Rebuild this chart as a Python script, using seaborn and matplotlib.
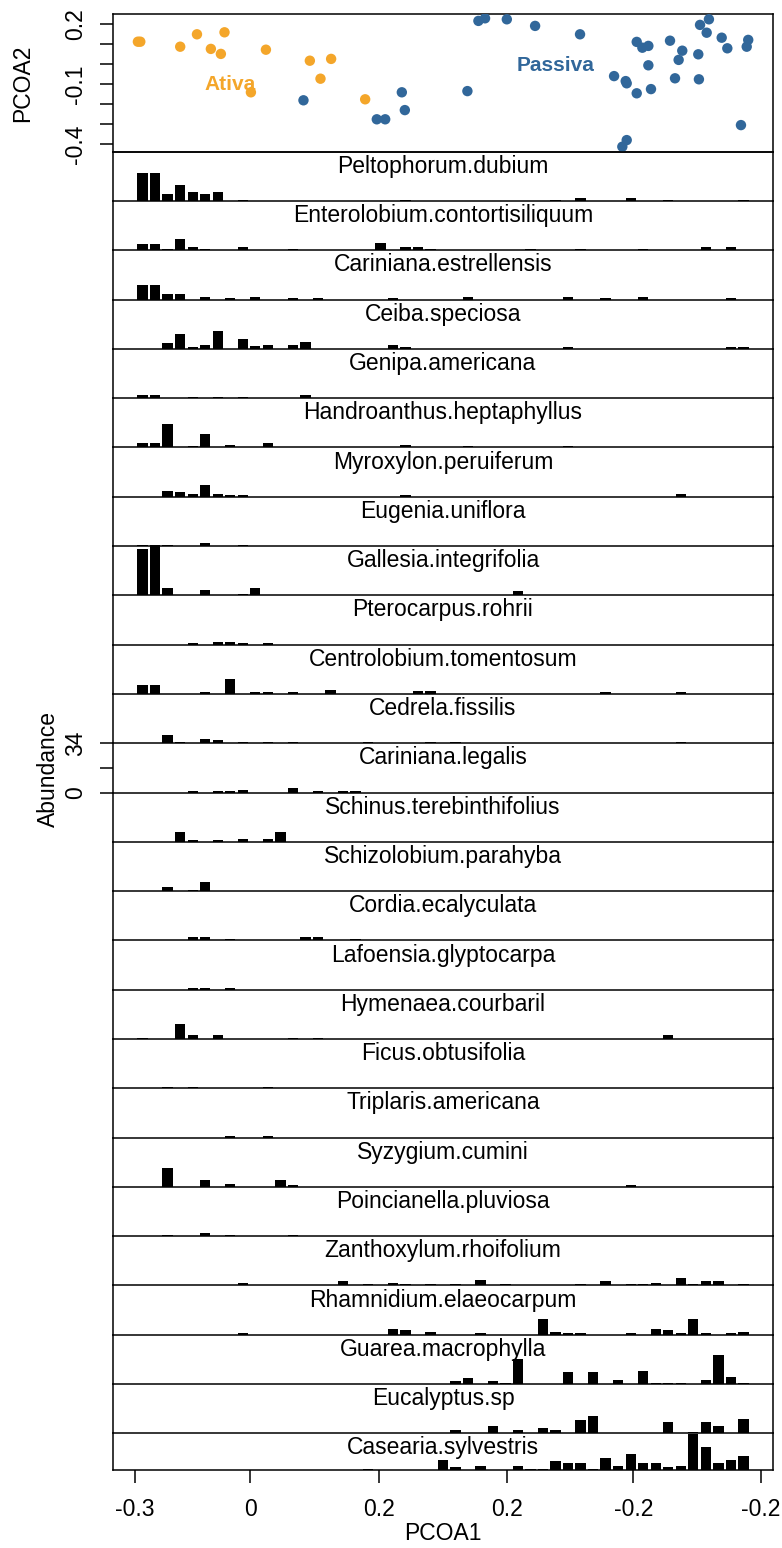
import matplotlib
matplotlib.use("Agg")
import matplotlib.pyplot as plt
import numpy as np
import pandas as pd
import seaborn as sns

# ---------------------------------------------------------------------------
# Ordination scores (PCoA axes 1 and 2) on the shared plotting scale
# ---------------------------------------------------------------------------
ativa_x = [0.62, 0.81, 4.00, 5.34, 6.45, 7.25, 7.54, 10.85, 14.36, 16.06,
           15.21, 9.65, 18.78]
ativa_y = [0.113, 0.113, 0.088, 0.150, 0.077, 0.052, 0.160, 0.073, 0.018,
           0.027, -0.072, -0.140, -0.175]
passiva_x = [13.85, 19.71, 20.38, 21.71, 21.95, 26.95, 27.83, 28.36, 30.10,
             32.36, 35.95, 38.67, 39.33, 39.68, 39.60, 39.68, 40.48, 40.48,
             40.93, 41.41, 41.41, 41.62, 43.14, 43.54, 43.83, 44.12, 45.40,
             45.45, 45.54, 46.25, 46.07, 47.27, 47.72, 48.81, 49.39, 49.27]
passiva_y = [-0.180, -0.275, -0.275, -0.140, -0.229, -0.134, 0.217, 0.230,
             0.225, 0.192, 0.150, -0.059, -0.412, -0.379, -0.084, -0.095,
             0.112, -0.145, 0.083, 0.092, -0.005, -0.124, 0.118, -0.070,
             0.022, 0.068, 0.050, -0.075, 0.197, 0.225, 0.158, 0.133, 0.080,
             -0.304, 0.122, 0.088]

pcoa2_ticks = [0.2, 0.1, 0.0, -0.1, -0.2, -0.3, -0.4]
pcoa2_labels = ["0.2", "", "", "-0.1", "", "", "-0.4"]
pcoa1_ticks = [0.4, 9.6, 19.85, 30.15, 40.2, 50.4]
pcoa1_labels = ["-0.3", "0", "0.2", "0.2", "-0.2", "-0.2"]

# ---------------------------------------------------------------------------
# Abundance of each species in the 49 plots (plots ordered along PCoA 1)
# ---------------------------------------------------------------------------
peltophorum_dubium = [
    19, 19, 5, 11, 6, 5, 6, 0, 1, 0,
    0, 0, 0, 0, 0, 0, 0, 0, 0, 0,
    0, 1, 0, 0, 0, 0, 0, 0, 0, 0,
    0, 0, 0, 1, 0, 2, 0, 0, 0, 2,
    0, 0, 1, 0, 0, 0, 0, 0, 1]
enterolobium_contortisiliquum = [
    4, 4, 1, 8, 2, 1, 0, 0, 2, 0,
    0, 0, 1, 0, 0, 0, 0, 0, 0, 5,
    0, 2, 2, 1, 0, 0, 0, 0, 0, 0,
    0, 1, 0, 0, 0, 1, 0, 0, 0, 0,
    1, 0, 0, 0, 0, 2, 0, 2, 0]
cariniana_estrellensis = [
    10, 10, 4, 4, 0, 2, 0, 1, 0, 2,
    0, 0, 1, 0, 1, 0, 0, 0, 0, 0,
    1, 0, 0, 0, 0, 0, 2, 0, 0, 0,
    0, 0, 0, 0, 2, 0, 0, 1, 0, 0,
    2, 0, 0, 0, 0, 0, 0, 1, 0]
ceiba_speciosa = [
    0, 0, 4, 10, 1, 3, 12, 0, 7, 2,
    3, 0, 3, 5, 0, 0, 0, 0, 0, 0,
    3, 1, 0, 0, 0, 0, 0, 0, 0, 0,
    0, 0, 0, 0, 1, 0, 0, 0, 0, 0,
    0, 0, 0, 0, 0, 0, 0, 1, 1]
genipa_americana = [
    2, 2, 0, 0, 1, 0, 1, 0, 1, 0,
    0, 0, 0, 2, 0, 0, 0, 0, 0, 0,
    0, 0, 0, 0, 0, 0, 0, 0, 0, 0,
    0, 0, 0, 0, 0, 0, 0, 0, 0, 0,
    0, 0, 0, 0, 0, 0, 0, 0, 0]
handroanthus_heptaphyllus = [
    3, 3, 16, 0, 1, 9, 0, 2, 0, 0,
    3, 0, 0, 0, 0, 0, 0, 0, 0, 0,
    0, 2, 0, 0, 0, 0, 1, 0, 0, 0,
    0, 0, 0, 0, 1, 0, 0, 0, 0, 0,
    0, 0, 0, 0, 0, 0, 0, 0, 0]
myroxylon_peruiferum = [
    0, 0, 4, 3, 2, 8, 2, 1, 1, 0,
    0, 0, 0, 0, 0, 0, 0, 0, 0, 0,
    0, 1, 0, 0, 0, 0, 0, 0, 0, 0,
    0, 0, 0, 0, 0, 0, 0, 0, 0, 0,
    0, 0, 0, 2, 0, 0, 0, 0, 0]
eugenia_uniflora = [
    1, 1, 1, 0, 0, 2, 0, 0, 1, 0,
    0, 0, 0, 0, 0, 0, 0, 0, 0, 0,
    0, 0, 0, 0, 0, 0, 0, 0, 0, 0,
    0, 0, 0, 0, 0, 0, 0, 0, 0, 0,
    0, 0, 0, 0, 0, 0, 0, 0, 0]
gallesia_integrifolia = [
    32, 34, 5, 0, 0, 4, 0, 0, 1, 5,
    0, 0, 0, 0, 0, 0, 0, 0, 0, 0,
    0, 0, 0, 0, 0, 0, 0, 0, 0, 0,
    3, 0, 0, 0, 0, 0, 0, 0, 0, 0,
    0, 0, 0, 0, 0, 0, 0, 0, 0]
pterocarpus_rohrii = [
    0, 0, 0, 0, 1, 0, 2, 2, 1, 0,
    1, 0, 0, 0, 0, 0, 0, 0, 0, 0,
    0, 0, 0, 0, 0, 0, 0, 0, 0, 0,
    0, 0, 0, 0, 0, 0, 0, 0, 0, 0,
    0, 0, 0, 0, 0, 0, 0, 0, 0]
centrolobium_tomentosum = [
    6, 6, 0, 0, 0, 1, 0, 10, 0, 1,
    1, 0, 1, 0, 0, 3, 0, 0, 0, 0,
    0, 0, 2, 2, 0, 0, 0, 0, 0, 0,
    0, 0, 0, 0, 0, 0, 0, 1, 0, 0,
    0, 0, 0, 1, 0, 0, 0, 0, 0]
cedrela_fissilis = [
    0, 0, 6, 1, 0, 3, 2, 0, 1, 0,
    1, 0, 1, 0, 0, 0, 0, 0, 1, 0,
    0, 0, 0, 1, 0, 1, 0, 0, 0, 0,
    0, 0, 0, 0, 0, 0, 0, 0, 0, 0,
    0, 0, 0, 1, 0, 0, 0, 0, 0]
cariniana_legalis = [
    0, 0, 0, 0, 1, 0, 1, 1, 2, 0,
    0, 0, 3, 0, 1, 0, 1, 1, 0, 0,
    0, 0, 0, 0, 0, 0, 0, 0, 0, 0,
    0, 0, 0, 0, 0, 0, 0, 0, 0, 0,
    0, 0, 0, 0, 0, 0, 0, 0, 0]
schinus_terebinthifolius = [
    0, 0, 0, 7, 1, 0, 1, 0, 2, 0,
    2, 7, 0, 0, 0, 0, 0, 0, 0, 0,
    0, 0, 0, 0, 0, 0, 0, 0, 0, 0,
    0, 0, 0, 0, 0, 0, 0, 0, 0, 0,
    0, 0, 0, 0, 0, 0, 0, 0, 0]
schizolobium_parahyba = [
    0, 0, 3, 0, 1, 6, 0, 0, 0, 0,
    0, 0, 0, 0, 0, 0, 0, 0, 0, 0,
    0, 0, 0, 0, 0, 0, 0, 0, 0, 0,
    0, 0, 0, 0, 0, 0, 0, 0, 0, 0,
    0, 0, 0, 0, 0, 0, 0, 0, 0]
cordia_ecalyculata = [
    0, 0, 0, 0, 2, 2, 0, 1, 0, 0,
    0, 0, 0, 2, 2, 0, 0, 1, 0, 0,
    0, 0, 0, 0, 0, 0, 0, 0, 0, 0,
    0, 0, 0, 0, 0, 0, 0, 0, 0, 0,
    0, 0, 0, 0, 0, 0, 0, 0, 0]
lafoensia_glyptocarpa = [
    0, 0, 0, 0, 1, 1, 0, 1, 0, 0,
    0, 0, 0, 0, 0, 0, 0, 0, 0, 0,
    0, 0, 0, 0, 0, 0, 0, 0, 0, 0,
    0, 0, 0, 0, 0, 0, 0, 0, 0, 0,
    0, 0, 0, 0, 0, 0, 0, 0, 0]
hymenaea_courbaril = [
    1, 0, 0, 10, 3, 0, 3, 0, 0, 0,
    0, 0, 1, 0, 1, 0, 0, 0, 0, 0,
    0, 0, 0, 0, 0, 0, 0, 0, 0, 0,
    0, 0, 0, 0, 0, 0, 0, 0, 0, 0,
    0, 0, 3, 0, 0, 0, 0, 0, 0]
ficus_obtusifolia = [
    0, 0, 1, 0, 1, 0, 0, 0, 0, 0,
    1, 0, 0, 0, 0, 0, 0, 0, 0, 0,
    0, 0, 0, 0, 0, 0, 0, 0, 0, 0,
    0, 0, 0, 0, 0, 0, 0, 0, 0, 0,
    0, 0, 0, 0, 0, 0, 0, 0, 0]
triplaris_americana = [
    0, 0, 0, 0, 0, 0, 0, 1, 0, 0,
    1, 0, 0, 0, 0, 0, 0, 0, 0, 0,
    0, 0, 0, 0, 0, 0, 0, 0, 0, 0,
    0, 0, 0, 0, 0, 0, 0, 0, 0, 0,
    0, 0, 0, 0, 0, 0, 0, 0, 0]
syzygium_cumini = [
    0, 0, 13, 0, 0, 5, 0, 2, 0, 0,
    0, 5, 1, 0, 0, 0, 0, 0, 0, 0,
    0, 0, 0, 0, 0, 0, 0, 0, 0, 0,
    0, 0, 0, 0, 0, 0, 0, 0, 0, 1,
    0, 0, 0, 0, 0, 0, 0, 0, 0]
poincianella_pluviosa = [
    0, 0, 1, 0, 0, 2, 0, 1, 0, 0,
    0, 0, 1, 0, 0, 0, 0, 0, 0, 0,
    0, 0, 0, 0, 0, 0, 0, 0, 0, 0,
    0, 0, 0, 0, 0, 0, 0, 0, 0, 0,
    0, 0, 0, 0, 0, 0, 0, 0, 0]
zanthoxylum_rhoifolium = [
    0, 0, 0, 0, 0, 0, 0, 0, 2, 0,
    0, 0, 0, 0, 0, 0, 3, 0, 1, 0,
    2, 1, 0, 1, 0, 1, 0, 4, 0, 1,
    0, 0, 0, 0, 0, 1, 0, 3, 0, 1,
    1, 2, 0, 5, 1, 3, 3, 0, 1]
rhamnidium_elaeocarpum = [
    0, 0, 0, 0, 0, 0, 0, 0, 1, 0,
    0, 0, 0, 0, 0, 0, 0, 0, 0, 0,
    4, 3, 0, 2, 0, 0, 0, 1, 0, 0,
    0, 0, 11, 2, 1, 1, 0, 0, 0, 1,
    0, 4, 3, 1, 11, 1, 0, 1, 2]
guarea_macrophylla = [
    0, 0, 0, 0, 0, 0, 0, 0, 0, 0,
    0, 0, 0, 0, 0, 0, 0, 0, 0, 0,
    0, 0, 0, 0, 0, 2, 4, 0, 2, 1,
    17, 0, 0, 0, 8, 0, 8, 0, 3, 0,
    9, 1, 1, 1, 0, 3, 20, 5, 1]
eucalyptus_sp = [
    0, 0, 0, 0, 0, 0, 0, 0, 0, 0,
    0, 0, 0, 0, 0, 0, 0, 0, 0, 0,
    0, 0, 0, 0, 0, 2, 0, 0, 5, 0,
    2, 0, 4, 2, 0, 9, 12, 0, 0, 0,
    0, 0, 8, 0, 1, 8, 5, 0, 10]
casearia_sylvestris = [
    0, 0, 0, 0, 0, 0, 0, 0, 0, 0,
    0, 0, 0, 0, 0, 0, 0, 0, 1, 0,
    0, 0, 0, 0, 7, 2, 0, 3, 0, 0,
    3, 1, 1, 6, 5, 5, 1, 8, 3, 11,
    5, 5, 2, 3, 25, 16, 5, 7, 10]

species = [
    ("Peltophorum.dubium", peltophorum_dubium),
    ("Enterolobium.contortisiliquum", enterolobium_contortisiliquum),
    ("Cariniana.estrellensis", cariniana_estrellensis),
    ("Ceiba.speciosa", ceiba_speciosa),
    ("Genipa.americana", genipa_americana),
    ("Handroanthus.heptaphyllus", handroanthus_heptaphyllus),
    ("Myroxylon.peruiferum", myroxylon_peruiferum),
    ("Eugenia.uniflora", eugenia_uniflora),
    ("Gallesia.integrifolia", gallesia_integrifolia),
    ("Pterocarpus.rohrii", pterocarpus_rohrii),
    ("Centrolobium.tomentosum", centrolobium_tomentosum),
    ("Cedrela.fissilis", cedrela_fissilis),
    ("Cariniana.legalis", cariniana_legalis),
    ("Schinus.terebinthifolius", schinus_terebinthifolius),
    ("Schizolobium.parahyba", schizolobium_parahyba),
    ("Cordia.ecalyculata", cordia_ecalyculata),
    ("Lafoensia.glyptocarpa", lafoensia_glyptocarpa),
    ("Hymenaea.courbaril", hymenaea_courbaril),
    ("Ficus.obtusifolia", ficus_obtusifolia),
    ("Triplaris.americana", triplaris_americana),
    ("Syzygium.cumini", syzygium_cumini),
    ("Poincianella.pluviosa", poincianella_pluviosa),
    ("Zanthoxylum.rhoifolium", zanthoxylum_rhoifolium),
    ("Rhamnidium.elaeocarpum", rhamnidium_elaeocarpum),
    ("Guarea.macrophylla", guarea_macrophylla),
    ("Eucalyptus.sp", eucalyptus_sp),
    ("Casearia.sylvestris", casearia_sylvestris),
]
abundance_axis_species = "Cariniana.legalis"
abundance_max = 34
n_plots = 49
plot_rank = np.arange(1, n_plots + 1)

# ---------------------------------------------------------------------------
# Style
# ---------------------------------------------------------------------------
sns.set_style("ticks")
plt.rcParams["font.family"] = ["Liberation Sans", "DejaVu Sans"]
plt.rcParams["axes.edgecolor"] = "black"
plt.rcParams["axes.linewidth"] = 1.1
plt.rcParams["xtick.color"] = "black"
plt.rcParams["ytick.color"] = "black"
plt.rcParams["text.color"] = "black"

ORANGE = "#F4A62A"
BLUE = "#31679A"
FS = 16.5
TICK_LEN = 9.4

W, H = 782, 1548
fig = plt.figure(figsize=(W / 100, H / 100), dpi=100)
left, right = 113 / W, 773 / W
sc_top, sc_bot = 1 - 14 / H, 1 - 151.7 / H
stack_bot = 1 - 1470 / H
xlim = (-1.37, 51.37)

# ---------------------------------------------------------------------------
# PCoA scatter
# ---------------------------------------------------------------------------
ax_sc = fig.add_axes([left, sc_bot, right - left, sc_top - sc_bot])
scores = pd.DataFrame({
    "PCOA1": ativa_x + passiva_x,
    "PCOA2": ativa_y + passiva_y,
    "Restauracao": ["Ativa"] * len(ativa_x) + ["Passiva"] * len(passiva_x),
})
sns.scatterplot(data=scores, x="PCOA1", y="PCOA2", hue="Restauracao",
                palette={"Ativa": ORANGE, "Passiva": BLUE}, s=56,
                linewidth=0, legend=False, ax=ax_sc, zorder=3)
ax_sc.set_xlim(*xlim)
ax_sc.set_ylim(-0.437, 0.2515)
ax_sc.set_xticks([])
ax_sc.set_yticks(pcoa2_ticks)
ax_sc.set_yticklabels(pcoa2_labels, rotation=90, va="center", fontsize=FS)
ax_sc.tick_params(axis="y", length=TICK_LEN, width=1.1, pad=9, direction="out")
ax_sc.set_xlabel("")
ax_sc.set_ylabel("")
ax_sc.text(8.0, -0.1035, "Ativa", color=ORANGE, fontsize=15,
           fontweight="bold", ha="center", va="center")
ax_sc.text(34.0, -0.007, "Passiva", color=BLUE, fontsize=15,
           fontweight="bold", ha="center", va="center")

# ---------------------------------------------------------------------------
# Stacked species abundance bars
# ---------------------------------------------------------------------------
last_panel_top = 25.3
ratios = [abundance_max] * (len(species) - 1) + [last_panel_top]
gs = fig.add_gridspec(len(species), 1, left=left, right=right, top=sc_bot,
                      bottom=stack_bot, hspace=0, height_ratios=ratios)

axes = []
for k, (name, values) in enumerate(species):
    ax = fig.add_subplot(gs[k, 0])
    df = pd.DataFrame({"plot": plot_rank, "abundance": values})
    sns.barplot(data=df, x="plot", y="abundance", native_scale=True,
                width=0.83, color="black", saturation=1, errorbar=None,
                linewidth=0, ax=ax, zorder=3)
    ax.set_xlim(*xlim)
    ax.set_ylim(0, ratios[k])
    ax.set_xlabel("")
    ax.set_ylabel("")
    ax.set_xticks([])
    ax.set_yticks([])
    ax.patch.set_alpha(0)
    # the separator above each panel is the bottom edge of the panel before
    if k > 0:
        ax.spines["top"].set_visible(False)
    ax.annotate(name, xy=(0.5, 1), xycoords="axes fraction",
                xytext=(0, -15.2), textcoords="offset points",
                ha="center", va="baseline", fontsize=FS)
    if name == abundance_axis_species:
        ax.set_yticks([0, abundance_max / 2, abundance_max])
        ax.set_yticklabels(["0", "", str(abundance_max)], rotation=90,
                           va="center", fontsize=FS)
        ax.tick_params(axis="y", length=TICK_LEN, width=1.1, pad=9,
                       direction="out")
    axes.append(ax)

ax_bottom = axes[-1]
ax_bottom.set_xticks(pcoa1_ticks)
ax_bottom.set_xticklabels(pcoa1_labels, fontsize=FS)
ax_bottom.tick_params(axis="x", length=TICK_LEN, width=1.1, pad=10.5,
                      direction="out")

fig.text(443 / W, 1 - 1533 / H, "PCOA1", ha="center", va="center", fontsize=FS)
fig.text(23 / W, 1 - 83 / H, "PCOA2", ha="center", va="center",
         rotation=90, fontsize=FS)
fig.text(48 / W, 1 - 769 / H, "Abundance", ha="center", va="center",
         rotation=90, fontsize=FS)

fig.savefig("out.png", dpi=100)
